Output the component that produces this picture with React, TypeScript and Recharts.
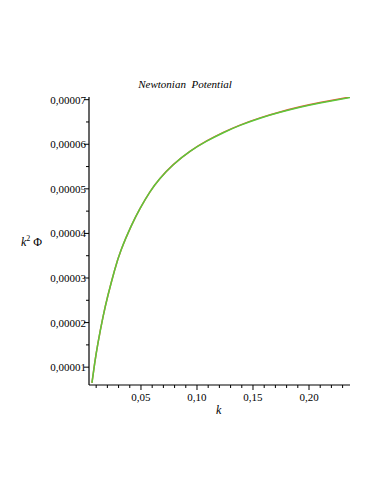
import React from "react";
import { LineChart, Line, XAxis, YAxis } from "recharts";

const kValues = [0.00624, 0.00866, 0.0116, 0.01607, 0.02053, 0.02651, 0.03241, 0.04134, 0.04911, 0.05804, 0.06697, 0.07884, 0.09376, 0.10867, 0.12349, 0.13841, 0.15627, 0.17413, 0.19199, 0.20985, 0.23664];
const greenSeries = [0.00000649, 0.00001085, 0.00001541, 0.00002122, 0.00002613, 0.00003181, 0.00003641, 0.00004168, 0.00004557, 0.00004932, 0.00005231, 0.0000554, 0.00005838, 0.00006069, 0.00006259, 0.00006423, 0.00006584, 0.00006716, 0.00006829, 0.00006925, 0.00007048];
const redSeries = [0.00000649, 0.00001085, 0.00001541, 0.00002122, 0.00002613, 0.00003181, 0.00003641, 0.00004168, 0.00004557, 0.00004933, 0.00005233, 0.00005543, 0.00005842, 0.00006074, 0.00006265, 0.0000643, 0.00006592, 0.00006725, 0.00006839, 0.00006936, 0.0000706];

const xMajorTicks = [0.05, 0.1, 0.15, 0.2];
const xMinorTicks = [0.01, 0.02, 0.03, 0.04, 0.06, 0.07, 0.08, 0.09, 0.11, 0.12, 0.13, 0.14, 0.16, 0.17, 0.18, 0.19, 0.21, 0.22, 0.23];
const xTickLabels = ["0,05", "0,10", "0,15", "0,20"];
const yMajorTicks = [0.00001, 0.00002, 0.00003, 0.00004, 0.00005, 0.00006, 0.00007];
const yMinorTicks = [0.000015, 0.000025, 0.000035, 0.000045, 0.000055, 0.000065];
const yTickLabels = ["0,00001", "0,00002", "0,00003", "0,00004", "0,00005", "0,00006", "0,00007"];

const data = kValues.map((k, i) => ({ k, red: redSeries[i], green: greenSeries[i] }));

const FONT = "'Liberation Serif', 'Times New Roman', serif";

const XTick = (props: any) => {
  const { x, y, payload } = props;
  const idx = xMajorTicks.findIndex((t) => Math.abs(t - payload.value) < 1e-9);
  const major = idx >= 0;
  return (
    <g>
      <line x1={x} x2={x} y1={y} y2={y + (major ? 5 : 3)} stroke="#000" strokeWidth={1} />
      {major && (
        <text x={x} y={y + 16} textAnchor="middle" fontFamily={FONT} fontSize={11} fill="#000">
          {xTickLabels[idx]}
        </text>
      )}
    </g>
  );
};

const YTick = (props: any) => {
  const { x, y, payload } = props;
  const idx = yMajorTicks.findIndex((t) => Math.abs(t - payload.value) < 1e-12);
  const major = idx >= 0;
  return (
    <g>
      <line x1={x - (major ? 5 : 3)} x2={x} y1={y} y2={y} stroke="#000" strokeWidth={1} />
      {major && (
        <text x={x - 3} y={y + 4} textAnchor="end" fontFamily={FONT} fontSize={11} fill="#000">
          {yTickLabels[idx]}
        </text>
      )}
    </g>
  );
};

export default function App() {
  return (
    <div style={{ position: "absolute", left: 0, top: 0, width: 382, height: 494, background: "#fff" }}>
      <LineChart width={382} height={494} data={data} margin={{ top: 97, right: 32, bottom: 79, left: 0 }}>
        <XAxis
          dataKey="k"
          type="number"
          domain={[0.0036, 0.2366]}
          allowDataOverflow
          ticks={[...xMinorTicks, ...xMajorTicks].sort((a, b) => a - b)}
          tick={<XTick />}
          tickLine={false}
          tickSize={0}
          tickMargin={0}
          interval={0}
          height={30}
          axisLine={{ stroke: "#000", strokeWidth: 1.2 }}
        />
        <YAxis
          type="number"
          domain={[0.000006, 0.0000706]}
          allowDataOverflow
          ticks={[...yMinorTicks, ...yMajorTicks].sort((a, b) => a - b)}
          tick={<YTick />}
          tickLine={false}
          tickSize={0}
          tickMargin={0}
          interval={0}
          width={89}
          axisLine={{ stroke: "#000", strokeWidth: 1.2 }}
        />
        <Line dataKey="red" type="natural" stroke="#e8553a" strokeWidth={1.5} dot={false} isAnimationActive={false} />
        <Line dataKey="green" type="natural" stroke="#5cc83a" strokeWidth={1.5} dot={false} isAnimationActive={false} />
      </LineChart>
      <div style={{ position: "absolute", left: 0, width: 370, top: 78, textAlign: "center", fontFamily: FONT, fontStyle: "italic", fontSize: 11, lineHeight: "13px", whiteSpace: "pre" }}>
        {"Newtonian  Potential"}
      </div>
      <div style={{ position: "absolute", left: 21, top: 231, fontFamily: FONT, fontSize: 12, lineHeight: "16px", whiteSpace: "pre" }}>
        <span style={{ fontStyle: "italic" }}>k</span>
        <sup style={{ fontSize: 8, verticalAlign: "5px" }}>2</sup>
        <span> Φ</span>
      </div>
      <div style={{ position: "absolute", left: 216, top: 402, fontFamily: FONT, fontStyle: "italic", fontSize: 12, lineHeight: "16px" }}>
        k
      </div>
    </div>
  );
}
